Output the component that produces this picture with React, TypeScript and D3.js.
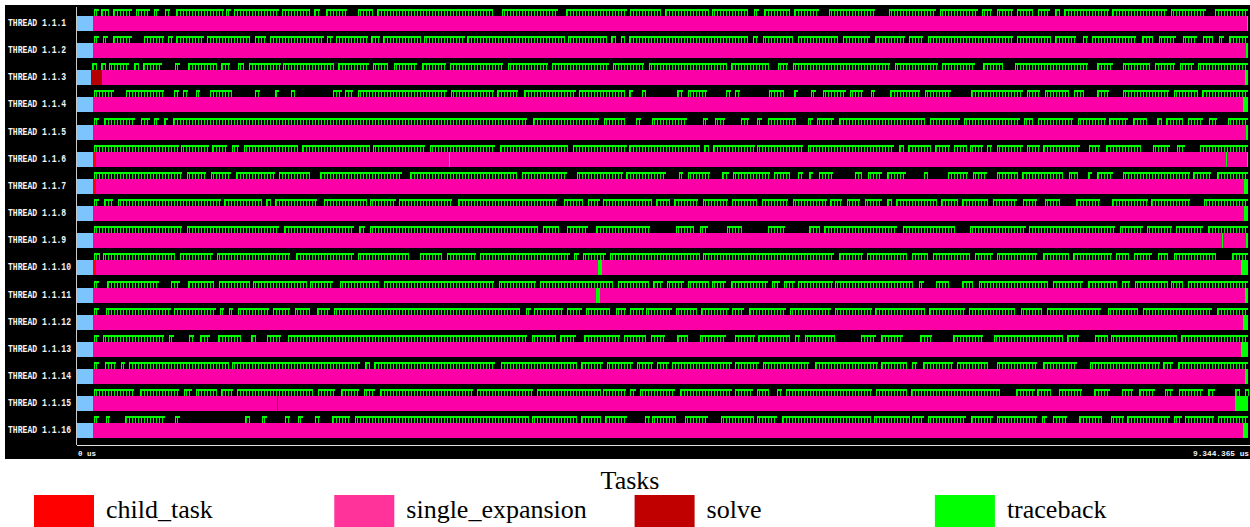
import React from 'react';
import * as d3 from 'd3';

// trace length in ms (9.344.365 us)
const TRACE_END = 9344.365;

const threadLabels = [
  'THREAD 1.1.1', 'THREAD 1.1.2', 'THREAD 1.1.3', 'THREAD 1.1.4',
  'THREAD 1.1.5', 'THREAD 1.1.6', 'THREAD 1.1.7', 'THREAD 1.1.8',
  'THREAD 1.1.9', 'THREAD 1.1.10', 'THREAD 1.1.11', 'THREAD 1.1.12',
  'THREAD 1.1.13', 'THREAD 1.1.14', 'THREAD 1.1.15', 'THREAD 1.1.16',
];

const legendTasks = ['child_task', 'single_expansion', 'solve', 'traceback'];
const legendColors = ['#ff0000', '#ff3399', '#c00000', '#00ff00'];

// state timeline per thread (ms)
const idleEnd = [128, 128, 112, 128, 128, 128, 128, 128, 128, 128, 128, 128, 128, 128, 128, 128];
const expansionStart = [128, 128, 199, 128, 128, 152, 152, 128, 128, 152, 128, 128, 128, 128, 128, 128];
const expansionEnd = [9337, 9329, 9321, 9305, 9329, 9337, 9313, 9313, 9329, 9289, 9321, 9305, 9289, 9321, 9241, 9305];

// [thread index, task, start, end]
const shortTasks: [number, string, number, number][] = [
  [2, 'solve', 112, 199],
  [5, 'child_task', 128, 152],
  [6, 'child_task', 128, 152],
  [9, 'child_task', 128, 152],
  [5, 'traceback', 2969, 2977],
  [5, 'traceback', 9169, 9177],
  [8, 'traceback', 9137, 9145],
  [9, 'traceback', 4158, 4189],
  [10, 'traceback', 4142, 4174],
  [14, 'solve', 1596, 1604],
];

// event flag runs per thread, [start, end] in ms
const flagsT01 = [[136, 176], [192, 255], [287, 439], [471, 583], [614, 654], [702, 742], [790, 1173], [1189, 1229], [1253, 1612], [1636, 1859], [1891, 1939], [1987, 2155], [2242, 2362], [2394, 3320], [3391, 3838], [3902, 4389], [4413, 4660], [4692, 5043], [5067, 5355], [5402, 5442], [5482, 5690], [5722, 5921], [6001, 6368], [6480, 6855], [6887, 7190], [7222, 7302], [7342, 7469], [7501, 7629], [7669, 7765], [7804, 7844], [7876, 8235], [8259, 8698], [8730, 9009], [9081, 9344]];
const flagsT02 = [[136, 176], [207, 247], [287, 439], [535, 694], [726, 766], [790, 1013], [1037, 1381], [1420, 1508], [1540, 1971], [1995, 2043], [2067, 2322], [2346, 2418], [2442, 2745], [2769, 3096], [3112, 3894], [3918, 4229], [4261, 4301], [4341, 4373], [4405, 5355], [5394, 5434], [5474, 5714], [5754, 6073], [6113, 6328], [6368, 6607], [6639, 6751], [6791, 7469], [7501, 7773], [7804, 7972], [8028, 8068], [8100, 8451], [8499, 8586], [8634, 8770], [8826, 8938], [8985, 9065], [9113, 9153], [9193, 9344]];
const flagsT03 = [[120, 160], [192, 231], [255, 415], [455, 495], [527, 678], [782, 822], [886, 1117], [1149, 1221], [1285, 1333], [1373, 1628], [1644, 2051], [2083, 2330], [2362, 2482], [2530, 2713], [2753, 2945], [2977, 3399], [3439, 3759], [3790, 4245], [4277, 4525], [4565, 5187], [5219, 5522], [5594, 5674], [5714, 6488], [6528, 6871], [6903, 7166], [7230, 7389], [7485, 8068], [8140, 8267], [8347, 8563], [8602, 8762], [8802, 8914], [8946, 9344]];
const flagsT04 = [[136, 295], [391, 694], [774, 814], [846, 886], [950, 982], [1061, 1237], [1420, 1460], [1580, 1612], [1708, 1740], [2043, 2115], [2139, 2202], [2242, 2953], [2985, 3328], [3352, 3519], [3567, 3982], [4006, 4373], [4405, 4437], [4509, 4541], [4788, 4836], [4876, 5027], [5179, 5219], [5251, 5291], [5522, 5642], [5722, 5754], [5857, 5897], [5953, 6137], [6169, 6272], [6336, 6368], [6488, 6727], [6767, 6975], [7134, 7549], [7581, 7685], [7725, 7916], [7956, 8036], [8140, 8235], [8347, 8714], [8754, 8946], [8977, 9344]];
const flagsT05 = [[136, 176], [215, 463], [511, 583], [614, 654], [694, 726], [766, 3591], [3639, 4166], [4205, 4373], [4461, 4501], [4588, 4868], [4995, 5035], [5091, 5171], [5299, 5363], [5426, 5466], [5514, 5738], [5833, 5873], [5905, 6041], [6081, 6767], [6807, 7046], [7078, 7525], [7557, 7629], [7669, 7948], [7988, 8211], [8235, 8387], [8427, 8539], [8618, 8658], [8690, 8826], [8866, 8985], [9033, 9097], [9185, 9344]];
const flagsT06 = [[136, 814], [830, 1053], [1077, 1197], [1237, 1293], [1333, 1764], [1795, 2338], [2362, 2777], [2817, 3336], [3376, 3918], [3958, 4389], [4405, 4972], [5003, 5043], [5075, 5410], [5426, 5793], [5833, 6520], [6560, 6599], [6631, 6815], [6847, 6967], [6998, 7102], [7126, 7230], [7262, 7302], [7342, 7549], [7581, 7685], [7709, 8004], [8076, 8164], [8211, 8491], [8586, 8722], [8778, 8842], [8962, 9344]];
const flagsT07 = [[136, 838], [878, 1029], [1069, 1229], [1269, 1580], [1612, 1859], [1939, 2593], [2657, 3511], [3551, 3910], [3990, 4357], [4381, 4700], [4804, 4836], [4876, 5051], [5147, 5203], [5235, 5530], [5562, 5690], [5754, 5793], [5841, 5873], [5921, 6033], [6208, 6264], [6312, 6424], [6464, 6615], [6759, 6791], [6951, 7110], [7150, 7262], [7342, 7509], [7541, 7868], [7916, 7988], [8068, 8100], [8140, 8267], [8347, 8882], [8906, 9049], [9097, 9344]];
const flagsT08 = [[136, 176], [215, 287], [327, 1149], [1173, 1476], [1508, 1548], [1580, 1915], [1971, 2314], [2338, 2546], [2570, 2992], [3040, 3830], [3886, 4038], [4078, 4174], [4197, 4588], [4620, 4732], [4764, 4956], [4995, 5195], [5227, 5426], [5466, 5674], [5714, 5985], [6009, 6105], [6145, 6248], [6288, 6424], [6464, 6504], [6536, 6863], [6895, 7030], [7062, 7270], [7310, 7501], [7549, 7661], [7725, 7844], [7972, 8164], [8259, 8547], [8571, 8882], [8993, 9344]];
const flagsT09 = [[136, 838], [878, 1612], [1652, 2210], [2250, 2298], [2338, 3679], [3719, 3846], [3910, 4078], [4142, 4573], [4780, 4924], [4972, 5035], [5187, 5307], [5514, 5650], [5841, 5929], [5961, 6544], [6591, 7006], [7126, 7573], [7597, 8283], [8323, 8507], [8539, 8738], [8770, 8985], [9025, 9344]];
const flagsT10 = [[136, 184], [207, 782], [822, 1085], [1117, 1700], [1748, 2210], [2242, 2649], [2737, 2913], [2953, 3184], [3216, 3934], [3966, 4006], [4038, 4221], [4253, 4972], [4995, 6041], [6081, 6272], [6304, 6623], [6663, 6791], [6831, 7126], [7166, 7310], [7342, 7661], [7709, 7916], [7948, 8259], [8291, 8395], [8435, 8578], [8626, 8706], [8754, 9089], [9217, 9344]];
const flagsT11 = [[136, 176], [239, 654], [750, 822], [886, 1093], [1133, 1381], [1404, 1835], [1859, 2043], [2099, 2410], [2450, 3328], [3368, 3663], [3695, 4277], [4317, 4565], [4596, 4676], [4708, 4844], [4876, 5043], [5067, 5179], [5219, 5514], [5546, 5610], [5642, 5730], [5754, 6033], [6049, 6671], [6719, 6759], [6855, 6959], [7062, 7150], [7198, 7749], [7788, 8028], [8068, 8299], [8339, 8403], [8443, 8706], [8730, 8826], [8866, 9344]];
const flagsT12 = [[136, 176], [231, 750], [774, 1109], [1141, 1173], [1213, 1245], [1285, 1532], [1564, 1700], [1740, 1859], [1915, 2019], [2051, 3535], [3583, 3623], [3647, 3878], [3910, 4030], [4062, 4253], [4301, 4381], [4413, 4525], [4541, 4748], [4780, 4948], [4980, 5203], [5227, 5323], [5363, 5658], [5690, 6017], [6049, 6344], [6368, 6767], [6799, 7086], [7118, 7485], [7533, 7701], [7741, 8172], [8227, 8467], [8507, 9057], [9097, 9344]];
const flagsT13 = [[136, 176], [207, 694], [734, 774], [894, 934], [982, 1061], [1125, 1309], [1389, 1428], [1516, 1628], [1684, 3591], [3631, 3822], [3854, 3982], [4046, 4333], [4365, 4541], [4581, 4692], [4788, 4876], [4972, 5179], [5251, 5410], [5434, 5690], [5730, 5770], [5809, 6049], [6256, 6376], [6416, 6591], [6727, 6823], [6990, 7230], [7318, 7868], [7900, 7996], [8124, 8227], [8251, 8778], [8810, 9344]];
const flagsT14 = [[136, 176], [223, 311], [351, 383], [415, 1213], [1237, 2258], [2298, 2338], [2370, 3336], [3384, 3990], [4022, 4197], [4229, 4437], [4469, 4596], [4628, 4724], [4748, 5227], [5251, 5442], [5474, 5841], [5889, 6392], [6416, 6623], [6663, 6703], [6751, 6990], [7022, 7270], [7342, 7661], [7709, 7980], [8084, 8642], [8666, 8746], [8786, 9344]];
const flagsT15 = [[136, 455], [503, 814], [854, 918], [950, 1117], [1149, 1245], [1277, 1883], [1923, 2059], [2107, 2250], [2290, 2378], [2418, 3160], [3192, 3639], [3671, 4182], [4197, 4381], [4413, 4461], [4493, 4772], [4812, 5227], [5251, 5394], [5426, 5522], [5586, 5626], [5658, 6344], [6376, 6623], [6655, 7366], [7493, 7645], [7661, 7773], [7836, 8020], [8116, 8243], [8339, 8427], [8475, 8602], [8682, 8746], [8794, 8985], [9025, 9081], [9241, 9281], [9321, 9344]];
const flagsT16 = [[136, 176], [231, 263], [383, 702], [782, 822], [1341, 1381], [1476, 1516], [1660, 1700], [1764, 1803], [1899, 1939], [2035, 2179], [2218, 3607], [3631, 3990], [4022, 4182], [4213, 4389], [4533, 4573], [4588, 4780], [4852, 5035], [5139, 5402], [5426, 5586], [5626, 6336], [6360, 6647], [6663, 6759], [6791, 7094], [7134, 7310], [7342, 7661], [7701, 7741], [7788, 7900], [7996, 8179], [8251, 8355], [8379, 8722], [8754, 8818], [8842, 9073], [9105, 9344]];

const flagRuns = [flagsT01, flagsT02, flagsT03, flagsT04, flagsT05, flagsT06, flagsT07, flagsT08,
  flagsT09, flagsT10, flagsT11, flagsT12, flagsT13, flagsT14, flagsT15, flagsT16];

const timelineColor: Record<string, string> = {
  idle: '#7cc4fc',
  child_task: '#ff0000',
  single_expansion: '#fc00a8',
  solve: '#b40000',
  traceback: '#00ff00',
};

export default function App() {
  const width = 1250;
  const height = 527;

  const x = d3.scaleLinear().domain([0, TRACE_END]).range([77, 1248]);
  const y = d3.scaleBand<string>()
    .domain(threadLabels)
    .range([9.925, 444.325])
    .paddingInner(12.15 / 27.15)
    .paddingOuter(12.15 / 27.15 / 2);
  const bh = y.bandwidth();

  const seg = (key: string, i: number, task: string, a: number, b: number) => {
    const x0 = x(a);
    const w = Math.max(x(b) - x0, 1);
    return <rect key={key} x={x0} y={y(threadLabels[i])} width={w} height={bh} fill={timelineColor[task]} />;
  };

  return (
    <svg width={width} height={height} style={{ position: 'absolute', left: 0, top: 0, background: '#fff' }}>
      <defs>
        <pattern id="stems" width={3} height={height} patternUnits="userSpaceOnUse">
          <rect x={0} y={0} width={1} height={height} fill="#00e400" />
        </pattern>
      </defs>
      <rect x={5} y={5} width={1245} height={454} fill="#000" />

      <g shapeRendering="crispEdges">
        {threadLabels.map((label, i) => (
          <g key={label}>
            {seg('idle' + i, i, 'idle', 0, idleEnd[i])}
            {seg('exp' + i, i, 'single_expansion', expansionStart[i], expansionEnd[i])}
            {seg('tb' + i, i, 'traceback', expansionEnd[i], TRACE_END)}
          </g>
        ))}
        {shortTasks.map(([i, task, a, b], k) => seg('st' + k, i, task, a, b))}

        {flagRuns.map((runs, i) => {
          const top = (y(threadLabels[i]) as number) - 7;
          return (
            <g key={'f' + i}>
              {runs.map(([a, b], j) => {
                const x0 = Math.round(x(a));
                const x1 = Math.max(Math.round(x(b)), x0 + 4);
                return (
                  <g key={j}>
                    <rect x={x0} y={top} width={x1 - x0} height={7} fill="url(#stems)" />
                    <rect x={x0} y={top} width={1} height={7} fill="#00ff00" />
                    <rect x={x0} y={top} width={x1 - x0} height={2} fill="#00ff00" />
                  </g>
                );
              })}
            </g>
          );
        })}

        <line x1={76.5} x2={76.5} y1={7} y2={445} stroke="#c8c8c8" />
        <line x1={77} x2={1250} y1={445.5} y2={445.5} stroke="#e0e0e0" />
      </g>

      {threadLabels.map((label) => (
        <text key={'l' + label} x={8} y={(y(label) as number) + 10}
          fontFamily="Liberation Mono" fontWeight="bold" fontSize={10} fill="#f4f4f4"
          textLength={label.length * 4.85} lengthAdjust="spacingAndGlyphs">
          {label}
        </text>
      ))}
      <text x={78} y={455.5} fontFamily="Liberation Mono" fontWeight="bold" fontSize={7.5} fill="#f4f4f4"
        textLength={18} lengthAdjust="spacingAndGlyphs">0 us</text>
      <text x={1193} y={455.5} fontFamily="Liberation Mono" fontWeight="bold" fontSize={7.5} fill="#f4f4f4"
        textLength={56} lengthAdjust="spacingAndGlyphs">9.344.365 us</text>

      <text x={630} y={489} textAnchor="middle" fontFamily="Liberation Serif" fontSize={26} fill="#000">Tasks</text>
      {legendTasks.map((t, i) => (
        <g key={t} transform={`translate(${34 + i * 300.3},0)`}>
          <rect x={0} y={495} width={60} height={34} fill={legendColors[i]} />
          <text x={72} y={518} fontFamily="Liberation Serif" fontSize={26} fill="#000">{t}</text>
        </g>
      ))}
    </svg>
  );
}
